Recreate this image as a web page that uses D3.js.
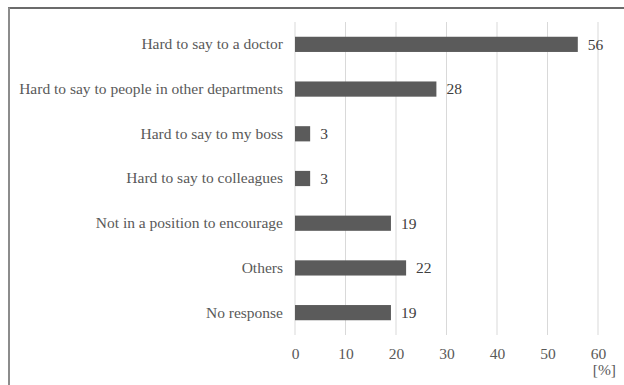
<!DOCTYPE html>
<html>
<head>
<meta charset="utf-8">
<script src="https://cdn.jsdelivr.net/npm/d3@7/dist/d3.min.js"></script>
<style>
  html, body { margin: 0; padding: 0; background: #fff; }
  svg { display: block; }
</style>
</head>
<body>
<svg id="chart" width="624" height="385"></svg>
<script>
// Survey responses (percent of respondents)
const categories = [
  "Hard to say to a doctor",
  "Hard to say to people in other departments",
  "Hard to say to my boss",
  "Hard to say to colleagues",
  "Not in a position to encourage",
  "Others",
  "No response"
];
const values = [56, 28, 3, 3, 19, 22, 19];
const xTicks = [0, 10, 20, 30, 40, 50, 60];
const unitLabel = "[%]";

const FONT = "'Liberation Serif', 'Times New Roman', serif";
const FS = 15.5;

const svg = d3.select("#chart");

// Plot area
const plot = { left: 295, right: 598, top: 22, bottom: 335 };

const x = d3.scaleLinear().domain([0, 60]).range([plot.left, plot.right]);
const y = d3.scaleBand().domain(categories).range([plot.top, plot.bottom])
  .paddingInner(0.66).paddingOuter(0.33);

// Frame around the figure
svg.append("line").attr("x1", 8).attr("x2", 624).attr("y1", 8).attr("y2", 8)
  .attr("stroke", "#3a3a3a").attr("stroke-width", 1.5);
svg.append("line").attr("x1", 9).attr("x2", 9).attr("y1", 7.5).attr("y2", 385)
  .attr("stroke", "#8c8c8c").attr("stroke-width", 2);

// Vertical gridlines
svg.append("g").selectAll("line").data(xTicks).join("line")
  .attr("x1", d => x(d)).attr("x2", d => x(d))
  .attr("y1", plot.top).attr("y2", plot.bottom)
  .attr("stroke", "#d9d9d9").attr("stroke-width", 1);

// Bars
svg.append("g").selectAll("rect").data(values).join("rect")
  .attr("x", x(0))
  .attr("y", (d, i) => y(categories[i]))
  .attr("width", d => x(d) - x(0))
  .attr("height", y.bandwidth())
  .attr("fill", "#5b5b5b");

// Value labels
svg.append("g").selectAll("text").data(values).join("text")
  .attr("x", d => x(d) + 10)
  .attr("y", (d, i) => y(categories[i]) + y.bandwidth() / 2)
  .attr("dy", "0.35em")
  .style("font-family", FONT)
  .style("font-size", FS + "px")
  .attr("fill", "#404040")
  .text(d => d);

// Category axis
const yAxis = svg.append("g").attr("transform", `translate(${plot.left},0)`)
  .call(d3.axisLeft(y).tickSize(0).tickPadding(12));
yAxis.select(".domain").remove();
yAxis.selectAll("text")
  .style("font-family", FONT)
  .style("font-size", FS + "px")
  .attr("fill", "#595959");

// Value axis
const xAxis = svg.append("g").attr("transform", `translate(0,${plot.bottom})`)
  .call(d3.axisBottom(x).tickValues(xTicks).tickSize(0).tickPadding(13));
xAxis.select(".domain").remove();
xAxis.selectAll("text")
  .style("font-family", FONT)
  .style("font-size", FS + "px")
  .attr("fill", "#595959");

// Unit label
svg.append("text")
  .attr("x", 616).attr("y", 375)
  .attr("text-anchor", "end")
  .style("font-family", FONT)
  .style("font-size", FS + "px")
  .attr("fill", "#595959")
  .text(unitLabel);
</script>
</body>
</html>
